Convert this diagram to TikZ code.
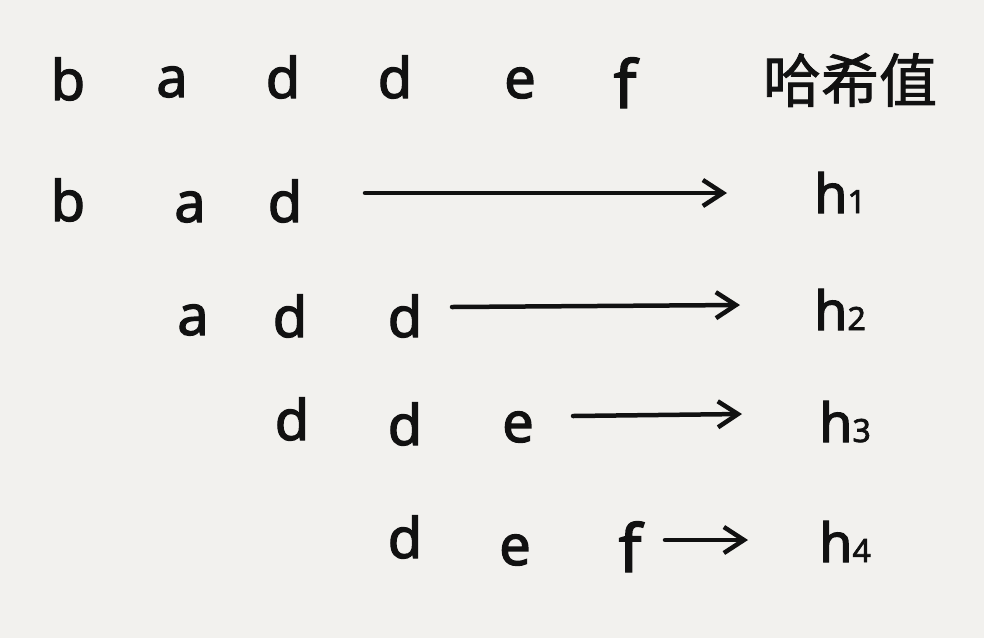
\documentclass[tikz,border=0pt]{standalone}
\usepackage{fontspec}
\setmainfont{Noto Sans}
\newfontfamily\hand{Noto Sans}[FakeBold=2.2]
\newfontfamily\cjk{Noto Sans CJK SC}[FakeBold=1.5]
\usetikzlibrary{arrows.meta}
\definecolor{bg}{HTML}{F2F1EE}
\definecolor{ink}{HTML}{111111}
\tikzset{
  ch/.style={anchor=base, inner sep=0pt, text=ink, font=\hand\fontsize{56}{56}\selectfont},
  hv/.style={anchor=base, inner sep=0pt, text=ink, font=\hand\fontsize{54}{54}\selectfont},
  arr/.style={draw=ink, line width=4.5pt, line cap=round, -{Straight Barb[length=20pt,width=26pt,line width=4.5pt]}}
}
\newcommand{\hsub}[1]{h{\fontsize{32}{32}\selectfont #1}}
\begin{document}
\begin{tikzpicture}[x=1pt,y=-1pt]
\fill[bg] (0,0) rectangle (984,638);
\useasboundingbox (0,0) rectangle (984,638);
% row 1
\node[ch] (r1b) at (68,100) {b};
\node[ch] (r1a) at (172,97) {a};
\node[ch] (r1d1) at (283,98) {d};
\node[ch] (r1d2) at (395,98) {d};
\node[ch] (r1e) at (520,98) {e};
\node[ch, font=\hand\fontsize{66}{66}\selectfont] (r1f) at (625,108) {f};
\node[anchor=center, inner sep=0pt, text=ink, font=\cjk\fontsize{58}{58}\selectfont] (hash) at (850,80) {哈希值};
% row 2
\node[ch] (r2b) at (68,221) {b};
\node[ch] (r2a) at (190,222) {a};
\node[ch] (r2d) at (285,222) {d};
\node[hv] (h1) at (840,213) {\hsub{1}};
% row 3
\node[ch] (r3a) at (193,335) {a};
\node[ch] (r3d1) at (290,337) {d};
\node[ch] (r3d2) at (405,337) {d};
\node[hv] (h2) at (840,330) {\hsub{2}};
% row 4
\node[ch] (r4d1) at (292,440) {d};
\node[ch] (r4d2) at (405,445) {d};
\node[ch] (r4e) at (518,442) {e};
\node[hv] (h3) at (845,442) {\hsub{3}};
% row 5
\node[ch] (r5d) at (405,558) {d};
\node[ch] (r5e) at (515,565) {e};
\node[ch, font=\hand\fontsize{66}{66}\selectfont] (r5f) at (630,572) {f};
\node[hv] (h4) at (845,562) {\hsub{4}};
% arrow end points
\coordinate (s1) at (365,193); \coordinate (e1) at (727,193);
\coordinate (s2) at (452,307); \coordinate (e2) at (740,305);
\coordinate (s3) at (573,416); \coordinate (e3) at (742,414);
\coordinate (s4) at (665,540); \coordinate (e4) at (748,540);
\draw[arr] (s1) -- (e1);
\draw[arr] (s2) -- (e2);
\draw[arr] (s3) -- (e3);
\draw[arr] (s4) -- (e4);
\end{tikzpicture}
\end{document}
